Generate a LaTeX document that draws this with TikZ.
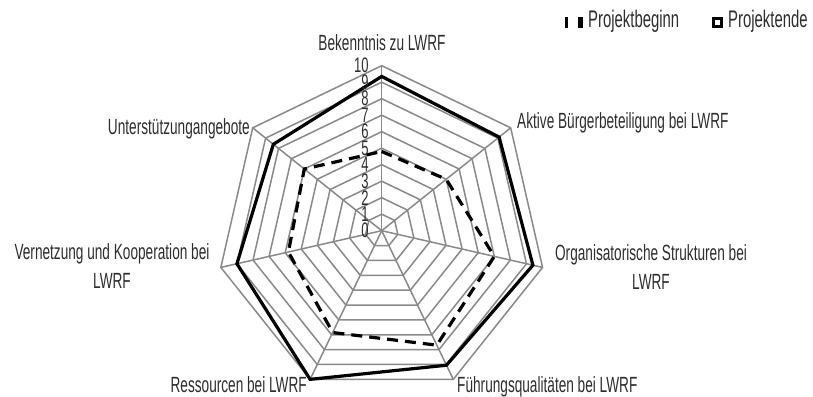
\documentclass[tikz,border=0pt]{standalone}
\usepackage{fontspec}
\setmainfont{Liberation Sans}[FakeStretch=0.62]
\definecolor{gridgray}{RGB}{137,137,137}
\definecolor{textgray}{RGB}{45,45,45}
\begin{document}
\begin{tikzpicture}[x=1pt,y=1pt,
  gridline/.style={draw=gridgray, line width=1.5pt, line join=miter},
  lab/.style={font=\fontsize{22}{29}\selectfont, inner sep=0pt, text=textgray},
  leglab/.style={font=\fontsize{24}{29}\selectfont, inner sep=0pt, text=textgray},
  numlab/.style={font=\fontsize{21}{22}\selectfont, inner sep=0pt, text=textgray, anchor=east},
  seriesend/.style={draw=black, line width=3.2pt, line join=miter},
  seriesbeg/.style={draw=black, line width=3.2pt, dash pattern=on 11pt off 7pt, line join=miter},
  legbar/.style={fill=black, draw=none}]
\useasboundingbox (0,0) rectangle (813,396);
\begin{scope}[shift={(381.7,165.3)}]
  % grid polygons
  \foreach \i in {1,...,10}{
    \pgfmathsetmacro{\r}{16.5*\i}
    \draw[gridline] (90:\r pt) \foreach \k in {1,...,6}{ -- ({90-\k*360/7}:\r pt)} -- cycle;
  }
  % spokes
  \coordinate (ctr) at (0,0);
  \foreach \k in {0,...,6}{
    \coordinate (v\k) at ({90-\k*360/7}:165pt);
    \draw[gridline] (ctr) -- (v\k);
  }
  % Projektbeginn
  \draw[seriesbeg]
    (90:{4.8*16.5pt})
    -- ({90-1*360/7}:{5.0*16.5pt})
    -- ({90-2*360/7}:{7.0*16.5pt})
    -- ({90-3*360/7}:{7.7*16.5pt})
    -- ({90-4*360/7}:{6.85*16.5pt})
    -- ({90-5*360/7}:{5.8*16.5pt})
    -- ({90-6*360/7}:{6.0*16.5pt})
    -- cycle;
  % Projektende
  \draw[seriesend]
    (90:{9.35*16.5pt})
    -- ({90-1*360/7}:{9.1*16.5pt})
    -- ({90-2*360/7}:{9.4*16.5pt})
    -- ({90-3*360/7}:{9.05*16.5pt})
    -- ({90-4*360/7}:{10*16.5pt})
    -- ({90-5*360/7}:{9.0*16.5pt})
    -- ({90-6*360/7}:{8.4*16.5pt})
    -- cycle;
  % scale numbers
  \foreach \i in {0,...,10}{
    \node[numlab] (n\i) at (-13, {16.5*\i}) {\i};
  }
\end{scope}
% axis labels
\node[lab, anchor=base] (l0) at (382,345) {Bekenntnis zu LWRF};
\node[lab, anchor=base west] (l1) at (517,267) {Aktive Bürgerbeteiligung bei LWRF};
\node[lab, align=center] (l2) at (651,129) {Organisatorische Strukturen bei\\LWRF};
\node[lab, anchor=base west] (l3) at (457,4) {Führungsqualitäten bei LWRF};
\node[lab, anchor=base east] (l4) at (307,4) {Ressourcen bei LWRF};
\node[lab, align=center] (l5) at (112,129.5) {Vernetzung und Kooperation bei\\LWRF};
\node[lab, anchor=base east] (l6) at (250,261) {Unterstützungangebote};
% legend
\fill[legbar] (564.5,368) rectangle (568,378.5);
\fill[legbar] (578,368) rectangle (582.5,378.5);
\node[leglab, anchor=base west] (lg1) at (588,368) {Projektbeginn};
\draw[black, line width=3.2pt] (713.5,369.5) rectangle (721.5,377.5);
\node[leglab, anchor=base west] (lg2) at (728,368) {Projektende};
\end{tikzpicture}
\end{document}
